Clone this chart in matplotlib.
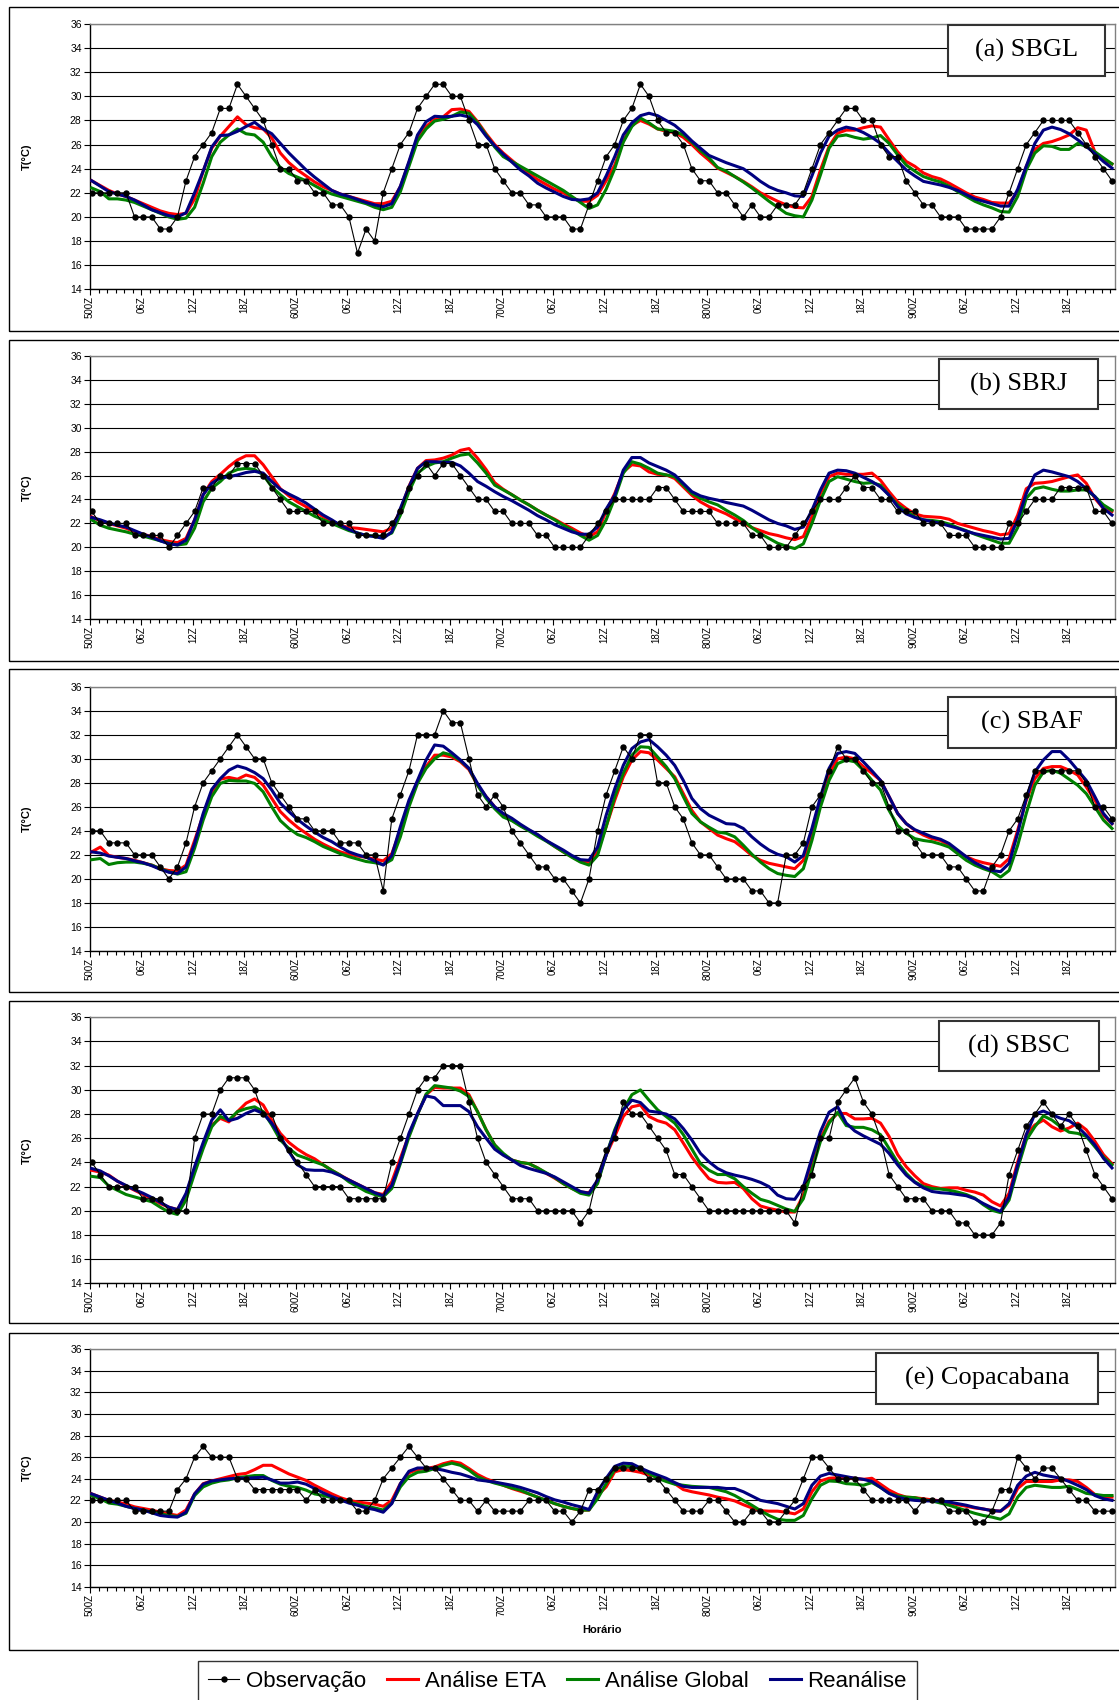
import numpy as np
import matplotlib
matplotlib.use("Agg")
import matplotlib.pyplot as plt
from matplotlib.patches import Rectangle
from matplotlib.lines import Line2D

plt.rcParams['font.family'] = ['Liberation Sans', 'DejaVu Sans']

# ---------------- data (hourly, 05/00Z to 09/23Z) ----------------
TICK_LABELS = ["500Z", "06Z", "12Z", "18Z", "600Z", "06Z", "12Z", "18Z",
               "700Z", "06Z", "12Z", "18Z", "800Z", "06Z", "12Z", "18Z",
               "900Z", "06Z", "12Z", "18Z"]
SERIES_NAMES = ["Observação", "Análise ETA", "Análise Global", "Reanálise"]
STATIONS = ["(a) SBGL", "(b) SBRJ", "(c) SBAF", "(d) SBSC", "(e) Copacabana"]

OBS_A = [22,22,22,22,22,20,20,20,19,19, 20,23,25,26,27,29,29,31,30,29,
         28,26,24,24,23,23,22,22,21,21, 20,17,19,18,22,24,26,27,29,30,
         31,31,30,30,28,26,26,24,23,22, 22,21,21,20,20,20,19,19,21,23,
         25,26,28,29,31,30,28,27,27,26, 24,23,23,22,22,21,20,21,20,20,
         21,21,21,22,24,26,27,28,29,29, 28,28,26,25,25,23,22,21,21,20,
         20,20,19,19,19,19,20,22,24,26, 27,28,28,28,28,27,26,25,24,23]
ETA_A = [23.0,22.6,22.2,21.9,21.7,21.4,21.1,20.8,20.5,20.3,
         20.2,20.3,21.5,23.8,25.7,26.7,27.5,28.3,27.65,27.4,
         27.3,26.55,25.3,24.5,23.9,23.4,22.9,22.5,22.2,21.9,
         21.7,21.5,21.3,21.1,21.1,21.3,22.5,24.5,26.6,27.5,
         28.1,28.3,28.9,28.95,28.75,27.9,26.9,26.0,25.3,24.7,
         24.1,23.6,23.1,22.7,22.3,22.0,21.6,21.3,21.3,21.8,
         23.0,24.3,26.3,27.6,28.0,27.7,27.3,27.1,27.0,26.6,
         26.0,25.3,24.7,24.05,23.7,23.35,22.95,22.5,22.0,21.65,
         21.3,21.0,20.8,20.75,21.7,23.9,25.85,26.95,27.2,27.2,
         27.4,27.55,27.45,26.4,25.4,24.6,24.2,23.65,23.35,23.15,
         22.8,22.4,22.0,21.65,21.45,21.2,21.15,21.15,22.1,24.2,
         25.6,26.1,26.25,26.5,26.8,27.4,27.2,25.4,24.75,24.4]
GLOBAL_A = [22.4,22.1,21.5,21.5,21.4,21.2,20.9,20.6,20.3,20.0,
            19.8,19.9,20.8,22.8,25.0,26.2,26.8,27.3,26.9,26.8,
            26.2,25.0,24.1,23.6,23.3,23.0,22.6,22.2,21.9,21.7,
            21.5,21.3,21.1,20.8,20.6,20.8,22.1,24.2,26.3,27.3,
            27.95,28.1,28.35,28.7,28.6,27.8,26.8,25.8,25.0,24.6,
            24.2,23.8,23.4,23.0,22.6,22.2,21.7,21.2,20.7,21.0,
            22.3,24.0,26.2,27.5,28.2,27.8,27.3,27.2,27.1,26.8,
            26.2,25.5,24.9,24.1,23.8,23.35,22.9,22.4,21.85,21.3,
            20.8,20.3,20.1,20.0,21.4,23.5,25.7,26.7,26.8,26.6,
            26.45,26.55,26.75,26.1,25.15,24.3,23.8,23.35,23.1,22.9,
            22.55,22.1,21.7,21.3,21.0,20.75,20.45,20.4,21.7,23.9,
            25.3,25.9,25.85,25.6,25.6,26.1,25.85,25.4,24.9,24.4]
REAN_A = [23.0,22.55,22.1,21.9,21.7,21.4,21.0,20.6,20.35,20.1,
          20.0,20.35,22.0,23.8,25.8,26.75,26.8,27.1,27.5,27.85,
          27.3,26.9,26.1,25.3,24.6,23.9,23.3,22.75,22.2,21.9,
          21.7,21.45,21.2,21.0,20.85,21.1,22.55,24.6,26.8,27.9,
          28.35,28.3,28.35,28.45,28.3,27.65,26.7,25.9,25.2,24.55,
          23.9,23.4,22.8,22.4,22.05,21.7,21.45,21.4,21.5,22.0,
          23.4,25.0,26.8,27.8,28.4,28.6,28.4,28.0,27.6,27.0,
          26.3,25.7,25.1,24.8,24.5,24.25,24.0,23.5,22.95,22.5,
          22.2,22.0,21.75,21.7,23.4,25.3,26.7,27.2,27.45,27.3,
          27.0,26.6,26.1,25.3,24.6,23.9,23.4,22.95,22.8,22.65,
          22.45,22.2,21.85,21.5,21.3,21.1,20.9,20.9,22.3,24.2,
          26.1,27.2,27.45,27.25,26.9,26.4,25.85,25.25,24.6,24.05]

OBS_B = [23,22,22,22,22,21,21,21,21,20, 21,22,23,25,25,26,26,27,27,27,
         26,25,24,23,23,23,23,22,22,22, 22,21,21,21,21,22,23,25,26,27,
         26,27,27,26,25,24,24,23,23,22, 22,22,21,21,20,20,20,20,21,22,
         23,24,24,24,24,24,25,25,24,23, 23,23,23,22,22,22,22,21,21,20,
         20,20,21,22,23,24,24,24,25,26, 25,25,24,24,23,23,23,22,22,22,
         21,21,21,20,20,20,20,22,22,23, 24,24,24,25,25,25,25,23,23,22]
ETA_B = [22.55,22.2,22.0,21.8,21.6,21.3,21.1,20.9,20.65,20.5,
         20.4,20.75,22.3,24.4,25.5,26.1,26.75,27.3,27.65,27.65,
         26.9,25.9,24.9,24.3,23.8,23.4,23.0,22.55,22.2,21.85,
         21.65,21.6,21.5,21.4,21.3,21.6,23.1,25.1,26.6,27.25,
         27.3,27.45,27.7,28.1,28.25,27.45,26.5,25.4,24.85,24.4,
         23.95,23.55,23.1,22.7,22.35,21.95,21.6,21.2,20.9,21.3,
         23.0,24.5,26.3,26.9,26.8,26.3,26.1,26.05,25.75,25.05,
         24.35,23.8,23.4,23.1,22.8,22.4,22.05,21.65,21.4,21.15,
         21.0,20.8,20.65,20.9,22.55,24.5,25.9,26.2,26.1,26.1,
         26.1,26.2,25.6,24.65,23.8,23.25,22.8,22.6,22.55,22.5,
         22.35,22.0,21.8,21.6,21.4,21.25,21.05,21.15,22.7,24.9,
         25.35,25.4,25.5,25.7,25.9,26.05,25.35,24.1,23.25,23.0]
GLOBAL_B = [22.3,21.85,21.6,21.45,21.3,21.1,20.95,20.75,20.55,20.35,
            20.2,20.3,21.6,23.8,24.95,25.5,26.2,26.5,26.6,26.5,
            26.05,25.05,24.4,23.8,23.4,23.0,22.6,22.3,22.0,21.7,
            21.4,21.2,21.0,20.95,20.9,21.2,22.7,24.65,26.2,26.75,
            27.05,27.15,27.45,27.7,27.8,27.05,26.2,25.2,24.8,24.4,
            23.95,23.55,23.1,22.7,22.3,21.85,21.45,21.0,20.6,21.0,
            22.3,24.1,26.2,27.15,26.95,26.6,26.2,26.05,25.9,25.2,
            24.5,24.1,23.8,23.55,23.1,22.7,22.25,21.65,21.15,20.75,
            20.35,20.1,19.9,20.3,22.0,23.95,25.5,25.9,25.7,25.5,
            25.35,25.4,25.2,24.35,23.55,23.05,22.55,22.3,22.25,22.15,
            21.95,21.65,21.4,21.1,20.85,20.6,20.35,20.35,21.65,24.1,
            24.9,25.05,24.85,24.7,24.7,24.8,24.8,24.25,23.55,23.1]
REAN_B = [22.5,22.3,22.05,21.85,21.7,21.4,21.1,20.85,20.55,20.3,
          20.2,20.6,22.3,24.4,25.35,25.8,25.9,26.05,26.25,26.35,
          26.2,25.5,24.85,24.45,24.1,23.7,23.2,22.7,22.3,21.85,
          21.5,21.2,21.0,20.9,20.75,21.3,23.25,25.05,26.6,27.15,
          27.15,27.1,27.1,26.8,26.2,25.5,25.1,24.65,24.25,23.9,
          23.5,23.1,22.65,22.3,21.9,21.6,21.3,21.1,21.1,21.7,
          23.2,24.35,26.45,27.5,27.5,27.05,26.75,26.45,26.05,25.35,
          24.65,24.3,24.1,23.95,23.75,23.6,23.45,23.1,22.7,22.3,
          22.0,21.8,21.5,21.7,23.1,24.8,26.2,26.45,26.4,26.2,
          25.85,25.5,25.05,24.35,23.4,22.8,22.5,22.3,22.15,22.0,
          21.8,21.6,21.35,21.15,21.0,20.85,20.7,20.75,22.3,24.5,
          26.05,26.45,26.3,26.1,25.9,25.5,24.9,24.25,23.25,22.7]

OBS_C = [24,24,23,23,23,22,22,22,21,20, 21,23,26,28,29,30,31,32,31,30,
         30,28,27,26,25,25,24,24,24,23, 23,23,22,22,19,25,27,29,32,32,
         32,34,33,33,30,27,26,27,26,24, 23,22,21,21,20,20,19,18,20,24,
         27,29,31,30,32,32,28,28,26,25, 23,22,22,21,20,20,20,19,19,18,
         18,22,22,23,26,27,29,31,30,30, 29,28,28,26,24,24,23,22,22,22,
         21,21,20,19,19,21,22,24,25,27, 29,29,29,29,29,29,28,26,26,25]
ETA_C = [22.25,22.65,21.95,21.8,21.7,21.55,21.35,21.15,20.85,20.7,
         20.65,21.15,23.2,25.3,27.25,28.3,28.45,28.3,28.65,28.45,
         27.8,26.7,25.6,24.9,24.3,23.8,23.3,22.9,22.55,22.25,
         22.05,21.9,21.8,21.65,21.5,22.1,24.05,26.3,28.1,29.35,
         30.3,30.3,30.15,29.75,29.1,27.8,26.85,26.0,25.3,24.9,
         24.45,24.05,23.65,23.2,22.7,22.25,21.85,21.45,21.35,22.25,
         24.35,26.55,28.5,29.9,30.6,30.5,29.9,29.2,28.5,27.1,
         25.7,24.75,24.2,23.65,23.35,23.1,22.55,21.95,21.55,21.3,
         21.15,21.0,20.85,21.55,23.8,26.55,28.75,30.0,30.15,30.0,
         29.35,28.8,28.2,26.85,25.45,24.6,24.05,23.65,23.35,23.2,
         22.8,22.25,21.85,21.55,21.35,21.2,21.05,21.7,24.05,26.55,
         28.35,29.2,29.35,29.35,29.05,28.65,27.65,26.55,25.3,24.6]
GLOBAL_C = [21.6,21.7,21.2,21.35,21.4,21.4,21.3,21.15,20.85,20.6,
            20.4,20.6,22.55,24.9,26.85,27.95,28.2,28.15,28.15,27.95,
            27.25,26.0,24.85,24.2,23.7,23.45,23.1,22.7,22.4,22.1,
            21.85,21.65,21.45,21.35,21.2,21.6,23.5,26.0,27.95,29.2,
            30.0,30.5,30.3,29.85,29.2,27.8,26.7,25.85,25.15,24.85,
            24.4,24.0,23.55,23.15,22.7,22.25,21.8,21.4,21.15,21.95,
            24.35,26.85,28.8,30.3,31.0,30.95,30.15,29.35,28.35,26.85,
            25.45,24.75,24.3,23.9,23.8,23.5,22.8,22.05,21.4,20.85,
            20.45,20.3,20.2,20.85,23.2,26.0,28.2,29.6,29.9,29.75,
            29.05,28.2,27.4,25.7,24.45,23.8,23.35,23.2,23.1,22.9,
            22.65,22.1,21.55,21.15,20.85,20.6,20.15,20.7,22.8,25.45,
            27.8,28.9,29.05,28.8,28.3,27.8,27.1,26.0,24.9,24.2]
REAN_C = [22.25,22.15,21.9,21.8,21.7,21.5,21.35,21.1,20.8,20.55,
          20.45,21.0,22.95,25.45,27.45,28.35,29.05,29.4,29.2,28.85,
          28.35,27.4,26.3,25.6,24.95,24.4,23.9,23.45,23.1,22.65,
          22.25,22.0,21.8,21.5,21.15,21.95,24.35,26.55,28.2,29.9,
          31.15,31.05,30.5,29.9,29.2,27.95,26.85,26.0,25.45,25.05,
          24.55,24.1,23.7,23.2,22.8,22.4,21.95,21.6,21.55,22.65,
          25.3,27.5,29.45,30.85,31.4,31.6,31.0,30.3,29.45,28.2,
          26.7,25.85,25.3,24.95,24.6,24.55,24.2,23.5,22.9,22.4,
          22.05,21.85,21.4,21.95,24.2,26.85,29.2,30.45,30.6,30.45,
          29.75,29.0,28.2,26.85,25.45,24.6,24.1,23.8,23.5,23.3,
          22.95,22.4,21.85,21.35,21.0,20.7,20.6,21.3,23.8,26.7,
          28.9,29.9,30.6,30.6,29.9,29.05,28.2,26.85,25.45,24.6]

OBS_D = [24,23,22,22,22,22,21,21,21,20, 20,20,26,28,28,30,31,31,31,30,
         28,28,26,25,24,23,22,22,22,22, 21,21,21,21,21,24,26,28,30,31,
         31,32,32,32,29,26,24,23,22,21, 21,21,20,20,20,20,20,19,20,23,
         25,26,29,28,28,27,26,25,23,23, 22,21,20,20,20,20,20,20,20,20,
         20,20,19,22,23,26,26,29,30,31, 29,28,26,23,22,21,21,21,20,20,
         20,19,19,18,18,18,19,23,25,27, 28,29,28,27,28,27,25,23,22,21]
ETA_D = [23.35,23.2,22.95,22.45,22.05,21.7,21.35,21.0,20.6,20.3,
         20.1,21.3,23.5,25.45,27.1,27.65,27.35,28.2,28.9,29.25,
         28.75,27.5,26.4,25.65,25.1,24.65,24.3,23.8,23.35,22.95,
         22.55,22.2,21.85,21.5,21.35,22.4,24.35,26.25,28.0,29.6,
         30.2,30.15,30.15,30.15,29.6,28.2,26.7,25.45,24.65,24.2,
         24.0,23.9,23.55,23.1,22.7,22.25,21.85,21.55,21.5,22.4,
         24.6,26.15,27.8,28.6,28.75,27.8,27.45,27.25,26.7,25.6,
         24.45,23.5,22.65,22.35,22.3,22.35,21.85,21.0,20.4,20.2,
         20.05,19.9,19.9,21.3,23.8,26.0,27.4,28.05,28.05,27.6,
         27.6,27.65,27.25,26.15,24.65,23.65,22.9,22.25,22.0,21.85,
         21.9,21.9,21.7,21.55,21.3,20.75,20.4,21.45,24.05,26.3,
         27.1,27.5,26.95,26.6,26.85,27.25,26.7,25.75,24.65,23.9]
GLOBAL_D = [22.85,22.75,22.05,21.7,21.35,21.15,20.95,20.75,20.3,19.9,
            19.7,20.9,23.1,25.15,26.95,27.8,27.5,28.2,28.45,28.6,
            28.2,27.1,25.85,25.15,24.6,24.35,24.05,23.8,23.35,22.95,
            22.4,22.0,21.6,21.35,21.15,21.85,23.9,26.1,27.95,29.65,
            30.35,30.25,30.15,29.9,29.45,28.2,26.7,25.45,24.75,24.2,
            24.0,23.9,23.55,23.15,22.75,22.25,21.85,21.45,21.3,22.25,
            24.6,26.7,28.35,29.6,30.0,29.15,28.35,27.8,27.25,26.3,
            25.1,23.9,23.35,23.0,23.0,22.65,22.0,21.45,20.95,20.75,
            20.45,20.15,19.95,21.0,23.35,25.75,27.25,28.15,27.05,26.9,
            26.9,26.7,26.3,25.15,24.0,23.1,22.4,22.0,21.85,21.8,
            21.7,21.55,21.35,21.05,20.5,20.05,19.85,20.9,23.5,25.85,
            26.95,27.85,27.5,26.95,26.5,26.4,26.15,25.3,24.45,23.8]
REAN_D = [23.5,23.3,22.9,22.45,22.1,21.75,21.45,21.1,20.7,20.3,
          20.1,21.45,23.65,25.65,27.5,28.35,27.45,27.65,28.05,28.35,
          28.05,27.25,26.15,24.9,23.8,23.4,23.35,23.35,23.2,22.9,
          22.55,22.2,21.85,21.5,21.25,22.1,24.05,26.4,28.05,29.5,
          29.35,28.7,28.7,28.7,28.2,26.95,26.0,25.1,24.6,24.2,
          23.75,23.5,23.3,23.1,22.8,22.4,22.0,21.6,21.45,22.55,
          24.6,26.55,28.35,29.15,28.95,28.25,28.15,28.0,27.6,26.8,
          25.85,24.75,24.05,23.5,23.15,22.95,22.8,22.6,22.35,22.0,
          21.3,21.0,20.95,22.0,24.35,26.55,28.15,28.6,27.25,26.6,
          26.2,25.85,25.5,24.75,23.8,22.95,22.35,21.9,21.6,21.5,
          21.45,21.35,21.25,21.0,20.6,20.25,19.95,21.15,23.8,26.3,
          28.0,28.25,27.95,27.65,27.45,26.95,26.25,25.45,24.35,23.55]

OBS_E = [22,22,22,22,22,21,21,21,21,21, 23,24,26,27,26,26,26,24,24,23,
         23,23,23,23,23,22,23,22,22,22, 22,21,21,22,24,25,26,27,26,25,
         25,24,23,22,22,21,22,21,21,21, 21,22,22,22,21,21,20,21,23,23,
         24,25,25,25,25,24,24,23,22,21, 21,21,22,22,21,20,20,21,21,20,
         20,21,22,24,26,26,25,24,24,24, 23,22,22,22,22,22,21,22,22,22,
         21,21,21,20,20,21,23,23,26,25, 24,25,25,24,23,22,22,21,21,21]
ETA_E = [22.6,22.3,22.0,21.85,21.65,21.4,21.25,21.1,20.9,20.75,
         20.6,21.1,22.6,23.55,23.8,24.0,24.2,24.4,24.5,24.85,
         25.25,25.25,24.85,24.45,24.15,23.85,23.4,23.0,22.6,22.25,
         22.0,21.85,21.75,21.65,21.45,22.0,23.55,24.55,24.85,24.95,
         25.1,25.4,25.6,25.45,24.95,24.4,24.0,23.7,23.4,23.1,
         22.85,22.6,22.3,22.0,21.7,21.45,21.25,21.1,21.1,22.45,
         23.25,24.65,24.85,24.75,24.6,24.35,24.2,23.95,23.55,23.0,
         22.8,22.65,22.5,22.3,22.15,21.95,21.6,21.3,21.05,21.0,
         21.0,20.9,20.75,21.2,22.8,23.8,24.05,24.1,24.1,24.05,
         23.95,24.05,23.5,22.95,22.55,22.3,22.25,22.15,22.05,21.95,
         21.75,21.6,21.45,21.3,21.2,21.05,21.0,21.55,23.1,23.75,
         23.75,23.75,23.75,23.9,23.9,23.75,23.2,22.55,22.3,22.3]
GLOBAL_E = [22.45,22.15,21.75,21.65,21.45,21.25,21.1,20.9,20.75,20.6,
            20.5,20.8,22.45,23.25,23.6,23.8,23.9,24.1,24.2,24.3,
            24.3,23.85,23.5,23.3,23.2,22.95,22.6,22.45,22.25,22.0,
            21.85,21.65,21.45,21.3,21.1,21.75,23.25,24.2,24.6,24.7,
            24.95,25.25,25.45,25.25,24.8,24.2,23.85,23.6,23.4,23.15,
            22.95,22.6,22.3,22.0,21.7,21.45,21.25,21.1,21.1,22.15,
            23.55,24.85,25.2,25.15,24.9,24.5,24.05,23.75,23.5,23.4,
            23.3,23.25,23.2,23.0,22.8,22.45,22.0,21.55,21.05,20.6,
            20.25,20.15,20.15,20.6,22.15,23.4,23.8,23.75,23.55,23.5,
            23.4,23.65,23.2,22.65,22.4,22.3,22.25,22.05,21.95,21.75,
            21.55,21.3,21.05,20.8,20.6,20.45,20.25,20.75,22.3,23.2,
            23.4,23.3,23.2,23.2,23.3,23.0,22.65,22.55,22.45,22.45]
REAN_E = [22.6,22.3,22.0,21.75,21.45,21.25,21.1,20.85,20.6,20.5,
          20.45,20.9,22.6,23.5,23.8,23.9,24.0,24.05,24.05,24.1,
          24.15,23.9,23.6,23.6,23.7,23.5,23.1,22.7,22.35,22.05,
          21.75,21.55,21.3,21.15,20.9,21.7,23.55,24.7,25.0,25.0,
          24.95,24.8,24.6,24.45,24.2,23.9,23.8,23.7,23.55,23.4,
          23.2,22.95,22.7,22.35,22.05,21.85,21.6,21.4,21.15,22.8,
          24.05,25.15,25.45,25.4,25.0,24.65,24.35,24.05,23.65,23.3,
          23.2,23.2,23.2,23.2,23.1,23.1,22.8,22.4,22.0,21.85,
          21.7,21.45,21.2,21.7,23.4,24.25,24.5,24.35,24.2,24.05,
          23.95,23.75,23.2,22.65,22.3,22.1,22.0,21.95,21.95,21.95,
          21.85,21.7,21.55,21.35,21.2,21.05,21.0,21.7,23.4,24.25,
          24.6,24.35,24.2,24.05,23.75,23.4,23.0,22.45,22.15,22.0]

# ---------------- layout (pixels) ----------------
W, H = 1119, 1700
fig = plt.figure(figsize=(W / 100, H / 100), dpi=100)

def fx(x):
    return x / W

def fy(y):
    return 1 - y / H

AX_LEFT, AX_RIGHT = 90, 1115
panels = [
    dict(name=STATIONS[0], data=(OBS_A, ETA_A, GLOBAL_A, REAN_A),
         ax=(24, 289.3), frame=(7, 331), box=(948, 1105, 25, 76)),
    dict(name=STATIONS[1], data=(OBS_B, ETA_B, GLOBAL_B, REAN_B),
         ax=(355.7, 619.3), frame=(340, 661), box=(939, 1098, 359, 409)),
    dict(name=STATIONS[2], data=(OBS_C, ETA_C, GLOBAL_C, REAN_C),
         ax=(686.7, 951), frame=(669, 992), box=(948, 1116, 697, 748)),
    dict(name=STATIONS[3], data=(OBS_D, ETA_D, GLOBAL_D, REAN_D),
         ax=(1017.3, 1283.4), frame=(1001, 1323), box=(939, 1099, 1021, 1071)),
    dict(name=STATIONS[4], data=(OBS_E, ETA_E, GLOBAL_E, REAN_E),
         ax=(1349.3, 1586.7), frame=(1333, 1650), box=(876, 1098, 1353, 1404)),
]

COLORS = ["black", "#ff0000", "#008000", "#000080"]
x = np.arange(len(OBS_A)) + 0.2

for p in panels:
    top, bot = p["ax"]
    ft, fb = p["frame"]
    fig.add_artist(Rectangle((fx(9), fy(fb)), fx(1135) - fx(9), fy(ft) - fy(fb),
                             transform=fig.transFigure, fill=False,
                             edgecolor="black", linewidth=1.0, zorder=0))
    ax = fig.add_axes([fx(AX_LEFT), fy(bot), fx(AX_RIGHT) - fx(AX_LEFT), fy(top) - fy(bot)])
    ax.set_facecolor("none")
    obs, eta, glob, rean = p["data"]
    ax.plot(x, eta, color=COLORS[1], lw=2.2, zorder=3)
    ax.plot(x, glob, color=COLORS[2], lw=2.2, zorder=3)
    ax.plot(x, rean, color=COLORS[3], lw=2.2, zorder=4)
    ax.plot(x, obs, color=COLORS[0], lw=0.8, marker="o", ms=3.6, zorder=5)
    ax.set_ylim(14, 36)
    ax.set_xlim(0, 119.55)
    ax.set_yticks(np.arange(14, 37, 2))
    ax.set_xticks(np.arange(0, 120, 6))
    ax.set_xticks(np.arange(0, 120, 1), minor=True)
    ax.set_xticklabels(TICK_LABELS, rotation=90)
    ax.yaxis.grid(True, color="black", lw=0.8)
    ax.set_axisbelow(True)
    ax.tick_params(axis="y", direction="out", length=4, width=0.8, labelsize=7.5, pad=2)
    ax.tick_params(axis="x", which="major", direction="out", length=4, width=0.8,
                   labelsize=7, pad=1)
    ax.tick_params(axis="x", which="minor", direction="out", length=3, width=0.8)
    for s in ("left", "bottom"):
        ax.spines[s].set_color("black")
        ax.spines[s].set_linewidth(1.0)
    for s in ("top", "right"):
        ax.spines[s].set_color("#808080")
        ax.spines[s].set_linewidth(1.0)
    fig.text(fx(27), fy((top + bot) / 2), "T(°C)", rotation=90, fontsize=8,
             fontweight="bold", ha="center", va="center")
    x0, x1, y0, y1 = p["box"]
    fig.add_artist(Rectangle((fx(x0), fy(y1)), fx(x1) - fx(x0), fy(y0) - fy(y1),
                             transform=fig.transFigure, facecolor="white",
                             edgecolor="#333333", linewidth=1.5, zorder=10))
    fig.text(fx((x0 + x1) / 2), fy((y0 + y1) / 2), p["name"], fontsize=19,
             family="Liberation Serif", ha="center", va="center", zorder=11)

fig.text(fx(602), fy(1630), "Horário", fontsize=8, fontweight="bold",
         ha="center", va="center")

handles = [Line2D([], [], color=COLORS[0], lw=0.8, marker="o", ms=3.6),
           Line2D([], [], color=COLORS[1], lw=2.2),
           Line2D([], [], color=COLORS[2], lw=2.2),
           Line2D([], [], color=COLORS[3], lw=2.2)]
leg = fig.legend(handles, SERIES_NAMES, loc="upper left",
                 bbox_to_anchor=(fx(198), fy(1661)), ncol=4, frameon=True,
                 fancybox=False, edgecolor="black", fontsize=16,
                 handlelength=1.4, handletextpad=0.3, columnspacing=0.95,
                 borderpad=0.45, borderaxespad=0)
leg.get_frame().set_linewidth(1.0)

fig.savefig("out.png", dpi=100)
